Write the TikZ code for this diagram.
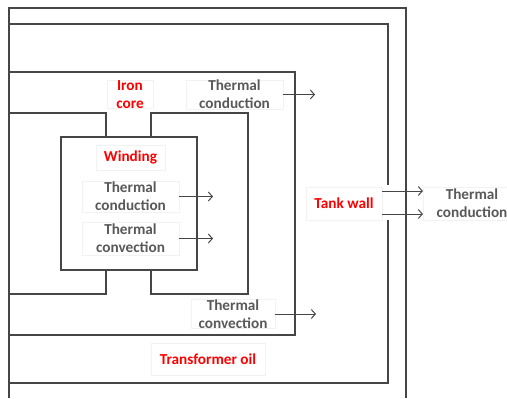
\documentclass[tikz,border=0pt]{standalone}
\usepackage{fontspec}
\setmainfont{Carlito}
\usetikzlibrary{arrows.meta}
\definecolor{txtgray}{RGB}{89,89,89}
\definecolor{linegray}{RGB}{70,70,70}
\definecolor{boxgray}{RGB}{242,242,242}
\begin{document}
\begin{tikzpicture}[x=1bp,y=-1bp,
  wall/.style={draw=linegray,line width=1.4bp},
  lbl/.style={draw=boxgray,line width=0.5bp,fill=white,font=\fontsize{15.3}{18}\selectfont\bfseries,align=center,inner sep=0pt},
  redlbl/.style={lbl,text=red},
  graylbl/.style={lbl,text=txtgray},
  arr/.style={draw=linegray,line width=1bp,-{Straight Barb[length=4bp,width=9bp]}}]
\useasboundingbox (0,0) rectangle (507,398);
% tank (outer)
\draw[wall] (9,398) -- (9,8) -- (406,8) -- (406,398);
% oil boundary / tank wall inner
\draw[wall] (9,24) -- (388,24) -- (388,185);
\draw[wall] (388,220) -- (388,383) -- (9,383);
% iron core
\draw[wall] (9,72) -- (295,72) -- (295,335) -- (9,335);
% core window
\draw[wall] (9,113) -- (106,113) -- (106,137);
\draw[wall] (151,137) -- (151,113) -- (248,113) -- (248,294) -- (151,294) -- (151,270);
\draw[wall] (9,294) -- (106,294) -- (106,270);
% winding
\draw[wall] (61,137) rectangle (197,270);
% labels
\node[redlbl,minimum width=46,minimum height=27] (ironcore) at (130,94.5) {Iron\\core};
\node[graylbl,minimum width=97,minimum height=27] (tcA) at (234.5,94.5) {Thermal\\conduction};
\node[redlbl,minimum width=69,minimum height=25] (winding) at (130.5,157.5) {Winding};
\node[graylbl,minimum width=97,minimum height=31] (tcB) at (130.5,196.5) {Thermal\\conduction};
\node[graylbl,minimum width=97,minimum height=33] (tvB) at (130.5,238.5) {Thermal\\convection};
\node[graylbl,minimum width=84,minimum height=28] (tvA) at (233,314) {Thermal\\convection};
\node[redlbl,minimum width=114,minimum height=32] (oil) at (208,359) {Transformer oil};
\node[redlbl,minimum width=76,minimum height=33] (tank) at (344,203.5) {Tank wall};
\node[graylbl,minimum width=98,minimum height=33] (tcC) at (472,203.5) {Thermal\\conduction};
% arrow end points
\coordinate (eA) at (315,94.5);
\coordinate (eB) at (213,196.5);
\coordinate (eC) at (213,238.5);
\coordinate (eD) at (316,314);
% arrows
\draw[arr] (tcA.east) -- (eA);
\draw[arr] (tcB.east) -- (eB);
\draw[arr] (tvB.east) -- (eC);
\draw[arr] (tvA.east) -- (eD);
\draw[arr] ([yshift=-10.5bp]tank.east) -- ([yshift=-10.5bp]tcC.west);
\draw[arr] ([yshift=12.5bp]tank.east) -- ([yshift=12.5bp]tcC.west);
\end{tikzpicture}
\end{document}
